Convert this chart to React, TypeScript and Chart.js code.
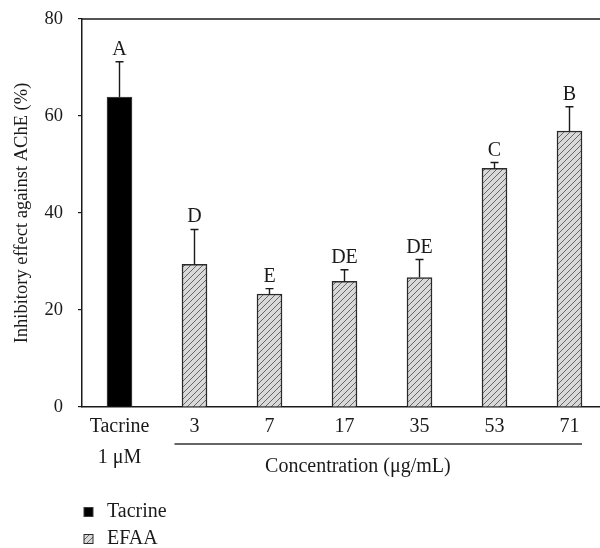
import React, { useEffect, useRef } from "react";
import { Chart, registerables } from "chart.js";

Chart.register(...registerables);

// ---------- data ----------
const categories: (string | string[])[] = [["Tacrine", "1 μM"], "3", "7", "17", "35", "53", "71"];
const tacrineValues: (number | null)[] = [63.9, null, null, null, null, null, null];
const efaaValues: (number | null)[] = [null, 29.4, 23.3, 25.9, 26.7, 49.2, 56.9];
const errorValues = [7.3, 7.2, 1.1, 2.4, 3.7, 1.2, 5.0];
const groupLetters = ["A", "D", "E", "DE", "DE", "C", "B"];
const seriesLabels = ["Tacrine", "EFAA"];
const yTitle = "Inhibitory effect against AChE (%)";
const groupTitle = "Concentration (μg/mL)";
const groupFirstIndex = 1;
const groupLastIndex = 6;
const yMin = 0;
const yMax = 80;
const yStep = 20;

const FONT = "'Liberation Serif', 'Times New Roman', serif";
const INK = "#1a1a1a";

function makeHatch(): CanvasPattern | string {
  const c = document.createElement("canvas");
  c.width = 6;
  c.height = 6;
  const g = c.getContext("2d");
  if (!g) return "#d9d9d9";
  g.fillStyle = "#d9d9d9";
  g.fillRect(0, 0, 6, 6);
  g.strokeStyle = "#4a4a4a";
  g.lineWidth = 0.8;
  g.beginPath();
  g.moveTo(0, 6);
  g.lineTo(6, 0);
  g.moveTo(-1, 1);
  g.lineTo(1, -1);
  g.moveTo(5, 7);
  g.lineTo(7, 5);
  g.stroke();
  const p = g.createPattern(c, "repeat");
  return p || "#d9d9d9";
}

const annotationsPlugin = {
  id: "annotations",
  afterDatasetsDraw(chart: any) {
    const ctx: CanvasRenderingContext2D = chart.ctx;
    const xs = chart.scales.x;
    const ys = chart.scales.y;
    const area = chart.chartArea;
    ctx.save();
    // top frame line
    ctx.strokeStyle = INK;
    ctx.lineWidth = 1.5;
    ctx.beginPath();
    ctx.moveTo(area.left, area.top);
    ctx.lineTo(area.right, area.top);
    ctx.stroke();

    // error bars + significance letters
    chart.data.datasets.forEach((ds: any, di: number) => {
      const meta = chart.getDatasetMeta(di);
      ds.data.forEach((v: number | null, i: number) => {
        if (v == null) return;
        const bar = meta.data[i];
        const top = ys.getPixelForValue(v + errorValues[i]);
        ctx.strokeStyle = INK;
        ctx.lineWidth = 1.4;
        ctx.beginPath();
        ctx.moveTo(bar.x, bar.y);
        ctx.lineTo(bar.x, top);
        ctx.moveTo(bar.x - 4, top);
        ctx.lineTo(bar.x + 4, top);
        ctx.stroke();
        ctx.fillStyle = INK;
        ctx.font = `20px ${FONT}`;
        ctx.textAlign = "center";
        ctx.textBaseline = "alphabetic";
        ctx.fillText(groupLetters[i], bar.x, top - 7);
      });
    });

    // bracket line under the EFAA concentrations + label
    const half = 12.5;
    const x0 = xs.getPixelForValue(groupFirstIndex) - 20;
    const x1 = xs.getPixelForValue(groupLastIndex) + half;
    const lineY = area.bottom + 37;
    ctx.strokeStyle = "#333";
    ctx.lineWidth = 1.5;
    ctx.beginPath();
    ctx.moveTo(x0, lineY);
    ctx.lineTo(x1, lineY);
    ctx.stroke();
    ctx.fillStyle = INK;
    ctx.font = `20px ${FONT}`;
    ctx.textAlign = "center";
    ctx.textBaseline = "middle";
    ctx.fillText(groupTitle, x0 + (x1 - x0) * 0.45, area.bottom + 60);
    ctx.restore();
  },
  afterDraw(chart: any) {
    const ctx: CanvasRenderingContext2D = chart.ctx;
    ctx.save();
    chart.data.datasets.forEach((ds: any, i: number) => {
      const cy = 512 + i * 27;
      const bx = 84;
      const size = 9;
      ctx.fillStyle = ds.backgroundColor;
      ctx.fillRect(bx, cy - size / 2, size, size);
      ctx.strokeStyle = ds.borderColor;
      ctx.lineWidth = 1;
      ctx.strokeRect(bx, cy - size / 2, size, size);
      ctx.fillStyle = INK;
      ctx.font = `20px ${FONT}`;
      ctx.textAlign = "left";
      ctx.textBaseline = "middle";
      ctx.fillText(ds.label, 107, cy);
    });
    ctx.restore();
  },
};

export default function App() {
  const ref = useRef<HTMLCanvasElement | null>(null);

  useEffect(() => {
    if (!ref.current) return;
    const hatch = makeHatch();
    const chart = new Chart(ref.current, {
      type: "bar",
      data: {
        labels: categories as any,
        datasets: [
          {
            label: seriesLabels[0],
            data: tacrineValues as any,
            backgroundColor: "#000000",
            borderColor: "#3a3a3a",
            borderWidth: 1.2,
            barThickness: 25,
            grouped: false,
          } as any,
          {
            label: seriesLabels[1],
            data: efaaValues as any,
            backgroundColor: hatch as any,
            borderColor: "#2a2a2a",
            borderWidth: 1.5,
            barThickness: 25,
            grouped: false,
          } as any,
        ],
      },
      options: {
        animation: false,
        responsive: false,
        devicePixelRatio: 1,
        layout: { padding: { top: 19, left: 0, right: 0, bottom: 0 } },
        plugins: {
          legend: { display: false },
          tooltip: { enabled: false },
        },
        scales: {
          x: {
            type: "category",
            offset: true,
            grid: { display: false, drawTicks: false },
            border: { display: true, color: INK, width: 1.5 },
            ticks: {
              color: INK,
              padding: 4.5,
              maxRotation: 0,
              autoSkip: false,
              font: { family: FONT, size: 20, lineHeight: 1.55 },
            },
            afterFit: (s: any) => {
              s.height = 141;
            },
          },
          y: {
            min: yMin,
            max: yMax,
            grid: {
              display: true,
              drawOnChartArea: false,
              drawTicks: true,
              tickLength: 4,
              color: INK,
              lineWidth: 1.2,
            },
            border: { display: true, color: INK, width: 1.5 },
            ticks: {
              stepSize: yStep,
              color: INK,
              padding: 15,
              font: { family: FONT, size: 18.5 },
            },
            title: {
              display: true,
              text: yTitle,
              color: INK,
              font: { family: FONT, size: 18.5 },
              padding: { top: 11, bottom: 0 },
            },
            afterFit: (s: any) => {
              s.width = 82;
              s.paddingTop = 12;
              s.paddingBottom = 12;
            },
          },
        },
      } as any,
      plugins: [annotationsPlugin as any],
    });
    return () => chart.destroy();
  }, []);

  return (
    <div
      style={{
        position: "absolute",
        left: 0,
        top: 0,
        width: 600,
        height: 548,
        overflow: "hidden",
        background: "#fff",
      }}
    >
      <canvas ref={ref} width={607} height={548} style={{ display: "block" }} />
    </div>
  );
}
